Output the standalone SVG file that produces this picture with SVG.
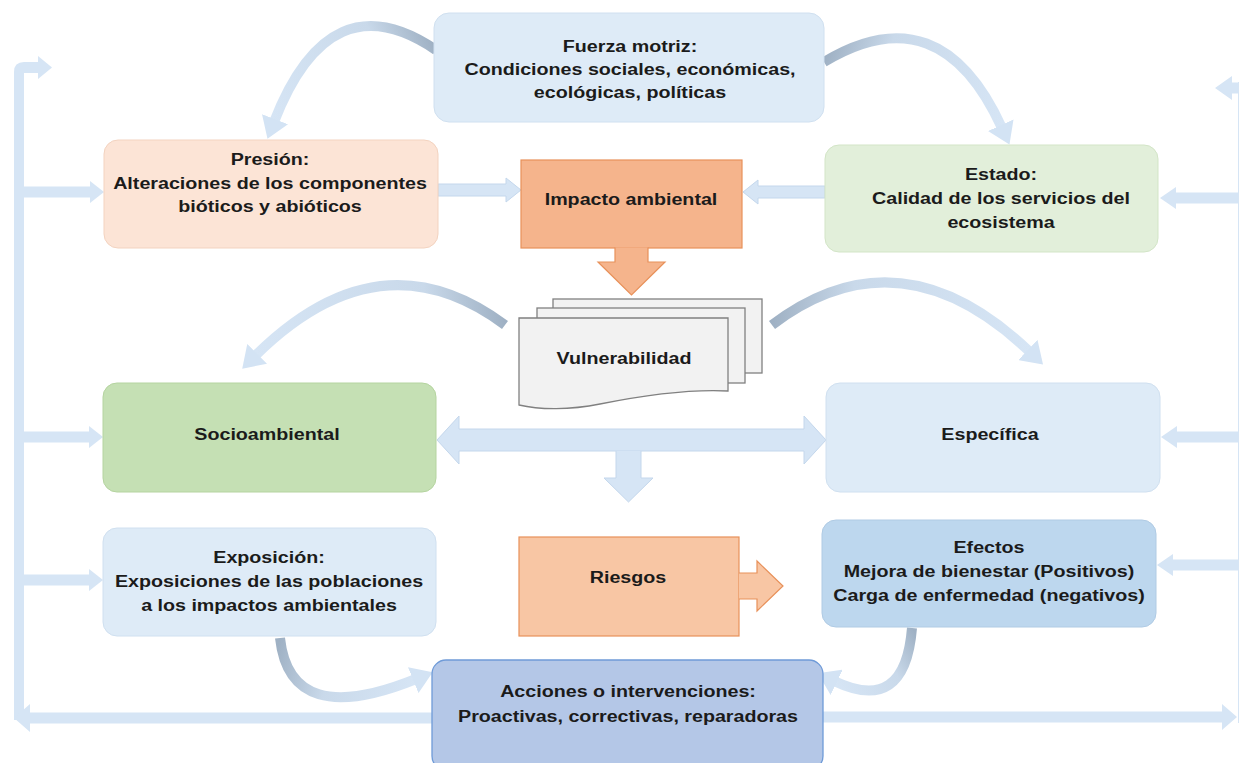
<svg xmlns="http://www.w3.org/2000/svg" width="1239" height="763" viewBox="0 0 1239 763">
<style>
.t{font-family:"Liberation Sans",Arial,sans-serif;font-size:16px;font-weight:bold;fill:#1b1b1b;text-anchor:middle}
.ba{fill:#d6e5f5;stroke:#c4d7ec;stroke-width:1}
.bus{fill:#d6e5f5}
.cv{fill:none;stroke-width:10;marker-end:url(#ah)}
.lb{fill:#deebf7;stroke:#d0e0f0;stroke-width:1}
.or{stroke:#e8915a;stroke-width:1.2}
.pg{fill:#f2f2f2;stroke:#808080;stroke-width:1.3}
</style>
<defs>
<marker id="ah" markerUnits="userSpaceOnUse" markerWidth="24" markerHeight="28" refX="3" refY="14" orient="auto">
<path d="M0,0 L21,14 L0,28 Z" fill="#d3e3f4"/>
</marker>
<linearGradient id="g1" gradientUnits="userSpaceOnUse" x1="436" y1="50" x2="274" y2="122"><stop offset="0" stop-color="#9fb1c4"/><stop offset="0.3" stop-color="#c9d9ea"/><stop offset="1" stop-color="#d6e5f5"/></linearGradient>
<linearGradient id="g2" gradientUnits="userSpaceOnUse" x1="824" y1="62" x2="1002" y2="128"><stop offset="0" stop-color="#9fb1c4"/><stop offset="0.3" stop-color="#c9d9ea"/><stop offset="1" stop-color="#d6e5f5"/></linearGradient>
<linearGradient id="g3" gradientUnits="userSpaceOnUse" x1="505" y1="325" x2="255" y2="358"><stop offset="0" stop-color="#9fb1c4"/><stop offset="0.3" stop-color="#c9d9ea"/><stop offset="1" stop-color="#d6e5f5"/></linearGradient>
<linearGradient id="g4" gradientUnits="userSpaceOnUse" x1="772" y1="325" x2="1030" y2="352"><stop offset="0" stop-color="#9fb1c4"/><stop offset="0.3" stop-color="#c9d9ea"/><stop offset="1" stop-color="#d6e5f5"/></linearGradient>
<linearGradient id="g5" gradientUnits="userSpaceOnUse" x1="280" y1="638" x2="418" y2="678"><stop offset="0" stop-color="#9fb1c4"/><stop offset="0.4" stop-color="#c9d9ea"/><stop offset="1" stop-color="#d6e5f5"/></linearGradient>
<linearGradient id="g6" gradientUnits="userSpaceOnUse" x1="912" y1="628" x2="832" y2="680"><stop offset="0" stop-color="#9fb1c4"/><stop offset="0.4" stop-color="#c9d9ea"/><stop offset="1" stop-color="#d6e5f5"/></linearGradient>
</defs>
<rect width="1239" height="763" fill="#ffffff"/>

<g id="connectors">
<path class="bus" d="M14 720 V72 Q14 62 24 62 H38 V56 L52 67.5 L38 79 V73 H24 V720 Z"/>
<path class="bus" d="M24 186.5 H90 V181 L104 192 L90 203 V197.5 H24 Z"/>
<path class="bus" d="M24 431.5 H89 V426 L103 437 L89 448 V442.5 H24 Z"/>
<path class="bus" d="M24 574.5 H89 V569 L103 580 L89 591 V585.5 H24 Z"/>
<path class="bus" d="M432 712.5 H30 V704 L14 718 L30 732 V723.5 H432 Z"/>
<rect class="bus" x="1238" y="82" width="10" height="641"/>
<path class="bus" d="M1239 82.5 H1232 V76 L1215 88 L1232 100 V93.5 H1239 Z"/>
<path class="bus" d="M1239 192.5 H1176 V187 L1160 198 L1176 209 V203.5 H1239 Z"/>
<path class="bus" d="M1239 431.5 H1177 V426 L1161 437 L1177 448 V442.5 H1239 Z"/>
<path class="bus" d="M1239 559.5 H1173 V554 L1157 565 L1173 576 V570.5 H1239 Z"/>
<path class="bus" d="M823 711.5 H1222 V704 L1237 717 L1222 730 V722.5 H823 Z"/>
<path class="ba" d="M438 184 H506 V178 L521 190 L506 202 V196 H438 Z"/>
<path class="ba" d="M825 186 H758 V180 L743 192 L758 204 V198 H825 Z"/>
<path class="ba" d="M437 440 L459 416 V429 H804 V416 L826 440 L804 464 V451 H459 V464 Z"/>
<path class="ba" d="M616 451 V478 H604 L628.5 502 L653 478 H641 V451"/>
<path class="cv" stroke="url(#g1)" d="M436 50 Q330 -22 274 122"/>
<path class="cv" stroke="url(#g2)" d="M824 62 Q940 -8 1002 128"/>
<path class="cv" stroke="url(#g3)" d="M505 325 Q380 232 255 356"/>
<path class="cv" stroke="url(#g4)" d="M772 325 Q900 228 1030 352"/>
<path class="cv" stroke="url(#g5)" d="M280 638 Q290 730 416 679"/>
<path class="cv" stroke="url(#g6)" d="M912 628 Q905 715 834 681"/>
</g>

<g id="fuerza">
<rect class="lb" x="434" y="13" width="390" height="109" rx="15"/>
<text class="t" transform="matrix(1.23 0 0 1 630 0)"><tspan x="0" y="52">Fuerza motriz:</tspan><tspan x="0" y="75">Condiciones sociales, económicas,</tspan><tspan x="0" y="98">ecológicas, políticas</tspan></text>
</g>

<g id="presion">
<rect x="104" y="140" width="334" height="108" rx="14" fill="#fce4d6" stroke="#f3d3c0" stroke-width="1"/>
<text class="t" transform="matrix(1.23 0 0 1 270 0)"><tspan x="0" y="165">Presión:</tspan><tspan x="0" y="189">Alteraciones de los componentes</tspan><tspan x="0" y="212">bióticos y abióticos</tspan></text>
</g>

<g id="impacto">
<rect class="or" x="521" y="160" width="221" height="88" fill="#f5b48c"/>
<path class="or" d="M615 247.5 V262 H598 L631.5 295 L665 262 H648 V247.5" fill="#f5b48c"/>
<text class="t" transform="matrix(1.23 0 0 1 631 0)"><tspan x="0" y="205">Impacto ambiental</tspan></text>
</g>

<g id="estado">
<rect x="825" y="145" width="333" height="107" rx="14" fill="#e2efda" stroke="#d3e5c7" stroke-width="1"/>
<text class="t" transform="matrix(1.23 0 0 1 1001 0)"><tspan x="0" y="180">Estado:</tspan><tspan x="0" y="204">Calidad de los servicios del</tspan><tspan x="0" y="228">ecosistema</tspan></text>
</g>

<g id="vulnerabilidad">
<rect class="pg" x="553" y="299" width="209" height="74"/>
<rect class="pg" x="537" y="308" width="208" height="75"/>
<path class="pg" d="M519 318 H728 V391 C690 389 640 396 600 404 C570 410 540 410 519 405 Z"/>
<text class="t" transform="matrix(1.23 0 0 1 624 0)"><tspan x="0" y="364">Vulnerabilidad</tspan></text>
</g>

<g id="socioambiental">
<rect x="103" y="383" width="333" height="109" rx="14" fill="#c5e0b4" stroke="#b5d4a0" stroke-width="1"/>
<text class="t" transform="matrix(1.23 0 0 1 267 0)"><tspan x="0" y="440">Socioambiental</tspan></text>
</g>

<g id="especifica">
<rect class="lb" x="826" y="383" width="334" height="109" rx="14"/>
<text class="t" transform="matrix(1.23 0 0 1 990 0)"><tspan x="0" y="440">Específica</tspan></text>
</g>

<g id="exposicion">
<rect class="lb" x="103" y="528" width="333" height="108" rx="14"/>
<text class="t" transform="matrix(1.23 0 0 1 269 0)"><tspan x="0" y="563">Exposición:</tspan><tspan x="0" y="587">Exposiciones de las poblaciones</tspan><tspan x="0" y="611">a los impactos ambientales</tspan></text>
</g>

<g id="riesgos">
<rect class="or" x="519" y="537" width="220" height="99" fill="#f8c6a4"/>
<path class="or" d="M739 573 H757 V561 L783 586 L757 611 V599 H739" fill="#f8c6a4"/>
<text class="t" transform="matrix(1.23 0 0 1 628 0)"><tspan x="0" y="583">Riesgos</tspan></text>
</g>

<g id="efectos">
<rect x="822" y="520" width="334" height="107" rx="14" fill="#bdd7ee" stroke="#b0cbe4" stroke-width="1"/>
<text class="t" transform="matrix(1.23 0 0 1 989 0)"><tspan x="0" y="553">Efectos</tspan><tspan x="0" y="577">Mejora de bienestar (Positivos)</tspan><tspan x="0" y="601">Carga de enfermedad (negativos)</tspan></text>
</g>

<g id="acciones">
<rect x="432" y="660" width="391" height="110" rx="14" fill="#b4c7e7" stroke="#6f9bd8" stroke-width="1.3"/>
<text class="t" transform="matrix(1.23 0 0 1 628 0)"><tspan x="0" y="697">Acciones o intervenciones:</tspan><tspan x="0" y="722">Proactivas, correctivas, reparadoras</tspan></text>
</g>
</svg>
